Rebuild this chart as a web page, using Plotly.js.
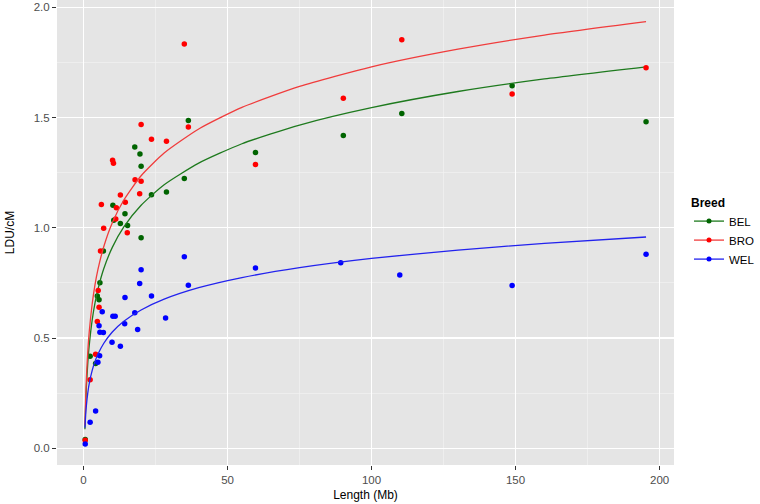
<!DOCTYPE html>
<html>
<head>
<meta charset="utf-8">
<script src="https://cdn.plot.ly/plotly-3.0.1.min.js"></script>
<style>
  html, body { margin: 0; padding: 0; background: #fff; }
  #chart { width: 760px; height: 504px; }
</style>
</head>
<body>
<div id="chart"></div>
<script>
// observed points, one array pair per breed
const belX = [195.3, 148.8, 110.5, 90.2, 59.7, 36.4, 35.0, 28.8, 23.6, 20.0, 19.6, 20.0, 17.8, 15.3, 14.4, 12.8, 10.5, 10.2, 6.9, 5.7, 5.4, 4.8, 4.2, 2.3, 0.6];
const belY = [1.481, 1.644, 1.518, 1.419, 1.341, 1.486, 1.223, 1.162, 1.150, 1.279, 1.335, 0.955, 1.366, 1.010, 1.064, 1.019, 1.034, 1.102, 0.895, 0.751, 0.674, 0.691, 0.384, 0.417, 0.040];

const broX = [195.3, 148.8, 110.5, 90.2, 59.7, 36.4, 35.0, 28.8, 23.6, 20.0, 20.0, 19.5, 17.9, 15.2, 14.5, 12.8, 11.4, 11.2, 10.4, 10.1, 7.0, 6.2, 5.9, 5.1, 5.4, 4.8, 4.2, 2.3, 0.6];
const broY = [1.726, 1.607, 1.853, 1.587, 1.287, 1.457, 1.834, 1.392, 1.401, 1.468, 1.211, 1.154, 1.218, 0.977, 1.116, 1.149, 1.091, 1.040, 1.293, 1.306, 0.998, 1.105, 0.895, 0.716, 0.639, 0.575, 0.426, 0.311, 0.036];

const welX = [195.3, 148.8, 109.8, 89.3, 59.7, 36.4, 35.0, 28.5, 23.6, 20.0, 19.5, 18.8, 17.8, 14.4, 14.3, 12.8, 11.0, 10.2, 9.9, 6.9, 6.5, 5.7, 5.4, 5.6, 5.0, 4.2, 2.3, 0.6];
const welY = [0.880, 0.738, 0.786, 0.841, 0.818, 0.739, 0.868, 0.591, 0.691, 0.810, 0.747, 0.538, 0.614, 0.684, 0.565, 0.463, 0.599, 0.599, 0.481, 0.525, 0.619, 0.526, 0.555, 0.419, 0.390, 0.169, 0.118, 0.019];

// fitted curves
const fitX = [0.5, 0.75, 1, 1.5, 2, 3, 4, 5, 7, 10, 14, 20, 28, 40, 55, 75, 100, 130, 160, 195.3];
const belFit = [0.086, 0.198, 0.277, 0.389, 0.468, 0.580, 0.659, 0.720, 0.813, 0.911, 1.004, 1.102, 1.195, 1.293, 1.381, 1.466, 1.545, 1.618, 1.675, 1.730];
const broFit = [0.103, 0.228, 0.316, 0.440, 0.529, 0.653, 0.742, 0.810, 0.913, 1.023, 1.126, 1.236, 1.339, 1.448, 1.546, 1.641, 1.730, 1.810, 1.874, 1.935];
const welFit = [0.093, 0.151, 0.193, 0.252, 0.294, 0.352, 0.394, 0.426, 0.475, 0.527, 0.576, 0.627, 0.676, 0.728, 0.774, 0.819, 0.861, 0.899, 0.929, 0.958];

const breeds = ['BEL', 'BRO', 'WEL'];
const colors = ['#006400', '#FF0000', '#0000FF'];
const lineColors = ['#1E7A1E', '#F03C3C', '#2222EE'];
const pts = [[belX, belY], [broX, broY], [welX, welY]];
const fits = [belFit, broFit, welFit];

const traces = [];
breeds.forEach((b, i) => {
  traces.push({
    x: pts[i][0], y: pts[i][1],
    mode: 'markers', type: 'scatter',
    marker: { color: colors[i], size: 5.5 },
    showlegend: false, hoverinfo: 'x+y'
  });
  traces.push({
    x: fitX, y: fits[i],
    mode: 'lines', type: 'scatter',
    line: { color: lineColors[i], width: 1.3, shape: 'spline', smoothing: 0.6 },
    showlegend: false, hoverinfo: 'skip'
  });
});
// legend keys (no data, just for the key)
breeds.forEach((b, i) => {
  traces.push({
    x: [null], y: [null],
    mode: 'lines+markers', type: 'scatter', name: b,
    line: { color: lineColors[i], width: 1.3 },
    marker: { color: colors[i], size: 5 }
  });
});

const tickFont = { family: 'Liberation Sans, Arial, sans-serif', size: 11.5, color: '#4D4D4D' };

const layout = {
  width: 760, height: 504,
  margin: { l: 57, r: 78, t: 0, b: 39 },
  paper_bgcolor: '#FFFFFF',
  plot_bgcolor: '#E5E5E5',
  font: { family: 'Liberation Sans, Arial, sans-serif', color: '#000' },
  xaxis: {
    range: [-9.2, 205.0],
    tickvals: [0, 50, 100, 150, 200],
    ticks: 'outside', ticklen: 4, tickcolor: '#333333', tickwidth: 1,
    tickfont: tickFont,
    gridcolor: '#FFFFFF', gridwidth: 1.3,
    minor: { tickvals: [25, 75, 125, 175], showgrid: true, gridcolor: '#F2F2F2', gridwidth: 0.7, ticks: '' },
    zeroline: false, showline: false,
    title: { text: 'Length (Mb)', font: { size: 12, color: '#000' }, standoff: 5 }
  },
  yaxis: {
    range: [-0.076, 2.033],
    tickvals: [0, 0.5, 1.0, 1.5, 2.0],
    tickformat: '.1f',
    ticks: 'outside', ticklen: 4, tickcolor: '#333333', tickwidth: 1,
    tickfont: tickFont,
    gridcolor: '#FFFFFF', gridwidth: 1.3,
    minor: { tickvals: [0.25, 0.75, 1.25, 1.75], showgrid: true, gridcolor: '#F2F2F2', gridwidth: 0.7, ticks: '' },
    zeroline: false, showline: false,
    title: { text: 'LDU/cM', font: { size: 12, color: '#000' }, standoff: 16 }
  },
  legend: {
    x: 1.025, xanchor: 'left', y: 0.5, yanchor: 'middle',
    title: { text: '<b>Breed</b>', font: { size: 12 } },
    font: { size: 11.5, color: '#000' },
    bgcolor: 'rgba(0,0,0,0)',
    itemwidth: 30,
    tracegroupgap: 0
  },
  showlegend: true
};

Plotly.newPlot('chart', traces, layout, { displayModeBar: false, staticPlot: true });
</script>
</body>
</html>
